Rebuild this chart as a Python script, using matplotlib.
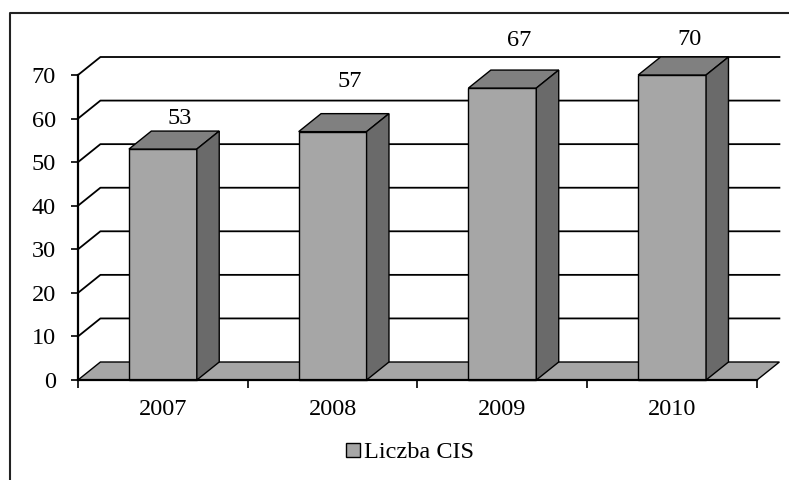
import matplotlib.pyplot as plt
from matplotlib.patches import Polygon, Rectangle, Patch
from matplotlib.lines import Line2D

# data
years = ['2007', '2008', '2009', '2010']
cis_count = [53, 57, 67, 70]
label_y = [60, 68.4, 78, 78.2]   # where Excel put the value labels
y_ticks = [0, 10, 20, 30, 40, 50, 60, 70]

plt.rcParams['font.family'] = ['Liberation Serif', 'DejaVu Serif']
fs = 17.5

front_c = '#a6a6a6'
top_c = '#808080'
side_c = '#6a6a6a'

fig = plt.figure(figsize=(7.89, 4.8), dpi=100)
ax = fig.add_axes([78 / 789, 100 / 480, 679 / 789, 305 / 480])
ax.set_xlim(-0.5, 3.5)
ax.set_ylim(0, 70)

# 3d depth in data units
dx = 0.132
dy = 4.13
hw = 0.2

# floor
ax.add_patch(Polygon([(-0.5, 0), (3.5, 0), (3.5 + dx, dy), (-0.5 + dx, dy)],
                     closed=True, fc=front_c, ec='black', lw=1, clip_on=False, zorder=1))

# gridlines on the side / back wall
for v in y_ticks[1:]:
    ax.plot([-0.5, -0.5 + dx, 3.5 + dx], [v, v + dy, v + dy],
            color='black', lw=1.3, clip_on=False, zorder=1)

# bars
for i, v in enumerate(cis_count):
    ax.add_patch(Rectangle((i - hw, 0), 2 * hw, v, fc=front_c, ec='black',
                           lw=1, clip_on=False, zorder=3))
    ax.add_patch(Polygon([(i - hw, v), (i + hw, v), (i + hw + dx, v + dy), (i - hw + dx, v + dy)],
                         closed=True, fc=top_c, ec='black', lw=1, clip_on=False, zorder=3))
    ax.add_patch(Polygon([(i + hw, 0), (i + hw + dx, dy), (i + hw + dx, v + dy), (i + hw, v)],
                         closed=True, fc=side_c, ec='black', lw=1, clip_on=False, zorder=3))
    ax.text(i + 0.1, label_y[i], str(v), ha='center', va='center', fontsize=fs)

# axes
for s in ['top', 'right']:
    ax.spines[s].set_visible(False)
for s in ['left', 'bottom']:
    ax.spines[s].set_linewidth(1.6)
    ax.spines[s].set_zorder(4)
ax.patch.set_alpha(0)

ax.set_yticks(y_ticks)
ax.tick_params(axis='y', length=5, width=1.2, pad=11, labelsize=fs)
ax.set_xticks([-0.5, 0.5, 1.5, 2.5, 3.5])
ax.set_xticklabels([])
ax.set_xticks(range(len(years)), minor=True)
ax.set_xticklabels(years, minor=True)
ax.tick_params(axis='x', which='major', length=6, width=1.2)
ax.tick_params(axis='x', which='minor', length=0, pad=14, labelsize=fs)

# legend
fig.legend(handles=[Patch(fc=front_c, ec='black')], labels=['Liczba CIS'],
           loc='center', bbox_to_anchor=(410 / 789, 1 - 453 / 480), frameon=False,
           fontsize=fs, handlelength=0.55, handleheight=0.55, handletextpad=0.15)

# chart frame (only left and top visible)
fig.add_artist(Line2D([10 / 789, 10 / 789, 1], [0, 1 - 13 / 480, 1 - 13 / 480],
                      color='#222222', lw=1.5))

fig.savefig('out.png', dpi=100)
